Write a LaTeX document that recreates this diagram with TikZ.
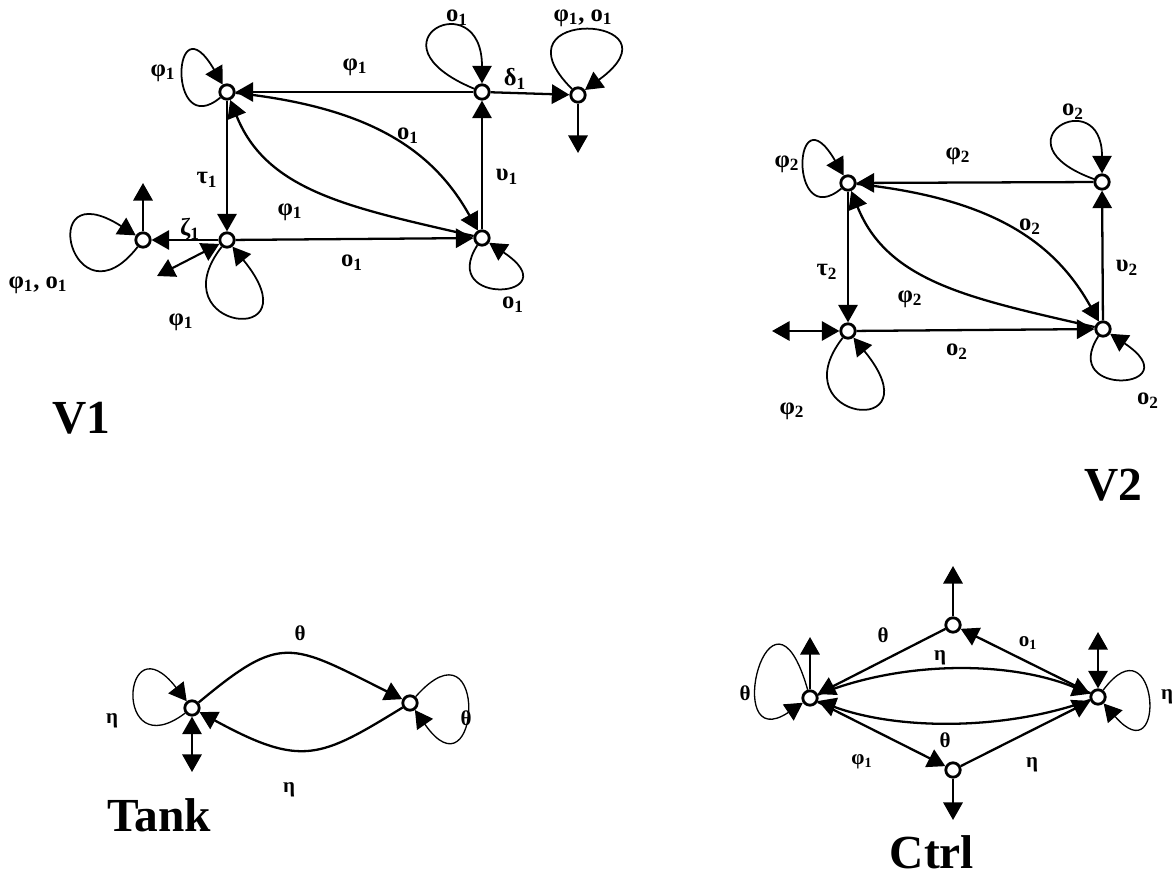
\documentclass[tikz,border=0pt]{standalone}
\usepackage{fontspec}
\setmainfont{Liberation Serif}
\usetikzlibrary{arrows.meta}
\tikzset{
  st/.style={circle,draw,line width=1.6pt,inner sep=0pt,minimum size=8.2pt,fill=white},
  tip/.tip={Triangle[length=10pt,width=11pt]},
  stip/.tip={Triangle[length=9pt,width=9.5pt]},
  ed/.style={line width=1.3pt,-tip},
  lp/.style={line width=1pt,-tip},
  slp/.style={line width=0.75pt,-tip},
  dbl/.style={line width=1.2pt,tip-tip},
  lab/.style={font=\bfseries\fontsize{14}{16}\selectfont,inner sep=0pt},
  slab/.style={font=\bfseries\fontsize{12}{14}\selectfont,inner sep=0pt},
  ttl/.style={font=\bfseries\fontsize{27}{30}\selectfont,inner sep=0pt},
}
\begin{document}
\begin{tikzpicture}[x=0.02cm,y=-0.02cm]
\useasboundingbox (0,0) rectangle (1172,878);
% ---------------- V1 ----------------
\node[st] (A) at (227,92) {};
\node[st] (B) at (482,92) {};
\node[st] (C) at (578,95) {};
\node[st] (D) at (227,240) {};
\node[st] (E) at (143,240) {};
\node[st] (F) at (482,238) {};
\coordinate (eU) at (143,183);
\coordinate (dL) at (157,276);
\coordinate (cD) at (578,153);
\draw[ed] (B) -- (A);
\draw[ed] (A) -- (D);
\draw[ed] (D) -- (F);
\draw[ed] (F) -- (B);
\draw[ed] (B) -- (C);
\draw[ed] (D) -- (E);
\draw[ed] (E) -- (eU);
\draw[ed] (C) -- (cD);
\draw[dbl] (dL) -- (D);
\draw[ed] (A) .. controls +(140,15) and +(-50,-90) .. (F);
\draw[ed] (F) .. controls +(-130,-30) and +(40,100) .. (A);
\draw[lp] (A) .. controls +(-60,50) and +(-55,-95) .. (A);
\draw[lp] (B) .. controls +(-120,-50) and +(0,-110) .. (B);
\draw[lp] (C) .. controls +(-90,-90) and +(110,-80) .. (C);
\draw[lp] (D) .. controls +(-70,90) and +(90,110) .. (D);
\draw[lp] (E) .. controls +(-70,90) and +(-110,-70) .. (E);
\draw[lp] (F) .. controls +(-45,70) and +(90,60) .. (F);
\node[lab] (a1) at (355,67) {φ\textsubscript{1}};
\node[lab] (a2) at (207,180) {τ\textsubscript{1}};
\node[lab] (a3) at (352,263) {o\textsubscript{1}};
\node[lab] (a4) at (507,177) {υ\textsubscript{1}};
\node[lab] (a5) at (515,79) {δ\textsubscript{1}};
\node[lab] (a6) at (408,136) {o\textsubscript{1}};
\node[lab] (a7) at (290,212) {φ\textsubscript{1}};
\node[lab] (a8) at (190,229) {ζ\textsubscript{1}};
\node[lab] (a9) at (163,73) {φ\textsubscript{1}};
\node[lab] (a10) at (457,18) {o\textsubscript{1}};
\node[lab] (a11) at (583,18) {φ\textsubscript{1}, o\textsubscript{1}};
\node[lab] (a12) at (38,285) {φ\textsubscript{1}, o\textsubscript{1}};
\node[lab] (a13) at (181,322) {φ\textsubscript{1}};
\node[lab] (a14) at (513,305) {o\textsubscript{1}};
\node[ttl] (t1) at (81,418) {V1};
% ---------------- V2 ----------------
\node[st] (A2) at (848,183) {};
\node[st] (B2) at (1102,182) {};
\node[st] (D2) at (848,331) {};
\node[st] (F2) at (1103,329) {};
\coordinate (d2L) at (772,331);
\draw[ed] (B2) -- (A2);
\draw[ed] (A2) -- (D2);
\draw[ed] (D2) -- (F2);
\draw[ed] (F2) -- (B2);
\draw[dbl] (d2L) -- (D2);
\draw[ed] (A2) .. controls +(140,15) and +(-50,-90) .. (F2);
\draw[ed] (F2) .. controls +(-130,-30) and +(40,100) .. (A2);
\draw[lp] (A2) .. controls +(-60,50) and +(-55,-95) .. (A2);
\draw[lp] (B2) .. controls +(-110,-40) and +(0,-100) .. (B2);
\draw[lp] (D2) .. controls +(-70,90) and +(90,110) .. (D2);
\draw[lp] (F2) .. controls +(-45,70) and +(90,60) .. (F2);
\node[lab] (b1) at (958,156) {φ\textsubscript{2}};
\node[lab] (b2) at (827,272) {τ\textsubscript{2}};
\node[lab] (b3) at (957,352) {o\textsubscript{2}};
\node[lab] (b4) at (1127,268) {υ\textsubscript{2}};
\node[lab] (b5) at (1030,227) {o\textsubscript{2}};
\node[lab] (b6) at (910,299) {φ\textsubscript{2}};
\node[lab] (b7) at (787,164) {φ\textsubscript{2}};
\node[lab] (b8) at (1073,112) {o\textsubscript{2}};
\node[lab] (b9) at (792,411) {φ\textsubscript{2}};
\node[lab] (b10) at (1148,401) {o\textsubscript{2}};
\node[ttl] (t2) at (1113,485) {V2};
% ---------------- Tank ----------------
\node[st] (T1) at (192,708) {};
\node[st] (T2) at (410,703) {};
\coordinate (t1D) at (192,772);
\draw[ed] (T1) .. controls +(90,-75) and +(-120,-60) .. (T2);
\draw[ed] (T2) .. controls +(-90,55) and +(110,60) .. (T1);
\draw[slp] (T1) .. controls +(-80,60) and +(-70,-90) .. (T1);
\draw[slp] (T2) .. controls +(80,-90) and +(70,100) .. (T2);
\draw[dbl] (t1D) -- (T1);
\node[slab] (c1) at (300,633) {θ};
\node[slab] (c2) at (289,790) {η};
\node[slab] (c3) at (112,721) {η};
\node[slab] (c4) at (466,718) {θ};
\node[ttl] (t3) at (159,815) {Tank};
% ---------------- Ctrl ----------------
\node[st] (L) at (810,698) {};
\node[st] (R) at (1098,697) {};
\node[st] (Tp) at (953,625) {};
\node[st] (Bt) at (953,770) {};
\coordinate (lU) at (810,637);
\coordinate (rU) at (1098,632);
\coordinate (tU) at (953,566);
\coordinate (bD) at (953,820);
\draw[ed] (Tp) -- (L);
\draw[ed] (R) -- (Tp);
\draw[ed] (L) -- (Bt);
\draw[ed] (Bt) -- (R);
\draw[ed] (L) .. controls +(90,-37) and +(-90,-37) .. (R);
\draw[ed] (R) .. controls +(-90,33) and +(90,33) .. (L);
\draw[ed] (L) -- (lU);
\draw[ed] (Tp) -- (tU);
\draw[ed] (Bt) -- (bD);
\draw[dbl] (rU) -- (R);
\draw[slp] (L) .. controls +(-40,-140) and +(-90,60) .. (L);
\draw[slp] (R) .. controls +(60,-80) and +(70,80) .. (R);
\node[slab] (e1) at (883,635) {θ};
\node[slab] (e2) at (1028,643) {o\textsubscript{1}};
\node[slab] (e3) at (940,658) {η};
\node[slab] (e4) at (945,740) {θ};
\node[slab] (e5) at (862,762) {φ\textsubscript{1}};
\node[slab] (e6) at (1032,765) {η};
\node[slab] (e7) at (745,693) {θ};
\node[slab] (e8) at (1167,697) {η};
\node[ttl] (t4) at (932,852) {Ctrl};
\end{tikzpicture}
\end{document}
